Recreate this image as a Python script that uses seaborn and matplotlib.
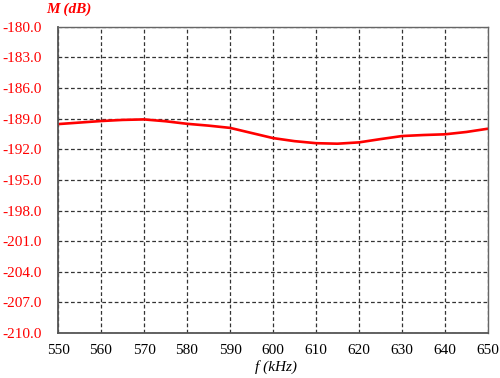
import matplotlib
matplotlib.use("Agg")
import matplotlib.pyplot as plt
import seaborn as sns
import pandas as pd

freq_khz = [550, 555, 560, 565, 570, 575, 580, 585, 590, 595, 600, 605, 610, 615, 620, 625, 630, 635, 640, 645, 650]
m_db = [-189.53, -189.38, -189.23, -189.12, -189.07, -189.25, -189.5, -189.68, -189.9, -190.4, -190.9, -191.2, -191.4, -191.45, -191.32, -191.0, -190.7, -190.6, -190.53, -190.3, -189.98]
x_ticks = [550, 560, 570, 580, 590, 600, 610, 620, 630, 640, 650]
y_ticks = [-180.0, -183.0, -186.0, -189.0, -192.0, -195.0, -198.0, -201.0, -204.0, -207.0, -210.0]

sns.set_theme(style="white")
plt.rcParams['font.family'] = ['Liberation Serif', 'DejaVu Serif']

df = pd.DataFrame({"f": freq_khz, "M": m_db})

fig = plt.figure(figsize=(5.0, 3.78), dpi=100)
ax = fig.add_axes([0.116, 0.119, 0.86, 0.81])
sns.lineplot(data=df, x="f", y="M", ax=ax, color="#ff0000", linewidth=1.9)

ax.set_xlim(550, 650)
ax.set_ylim(-210, -180)
ax.set_xticks(x_ticks)
ax.set_yticks(y_ticks)
ax.set_xticklabels([str(t) for t in x_ticks], fontsize=11, color="black")
ax.set_yticklabels([f"{t:.1f}" for t in y_ticks], fontsize=11, color="#ff0000")
ax.tick_params(axis="x", length=0, pad=8)
ax.tick_params(axis="y", length=0, pad=11.5)
ax.grid(True, linestyle=(0, (3, 2)), color="#333333", linewidth=0.9)
for side in ["left", "bottom"]:
    ax.spines[side].set_color("#555555")
    ax.spines[side].set_linewidth(1.3)
for side in ["top", "right"]:
    ax.spines[side].set_color("#666666")
    ax.spines[side].set_linewidth(1.0)
ax.set_xlabel("")
ax.set_ylabel("")

fig.text(0.138, 0.975, "M (dB)", color="#ff0000", fontsize=11, fontstyle="italic",
         fontweight="bold", ha="center", va="center")
fig.text(0.552, 0.029, "f (kHz)", color="black", fontsize=11, fontstyle="italic",
         ha="center", va="center")

fig.savefig("out.png", dpi=100)
